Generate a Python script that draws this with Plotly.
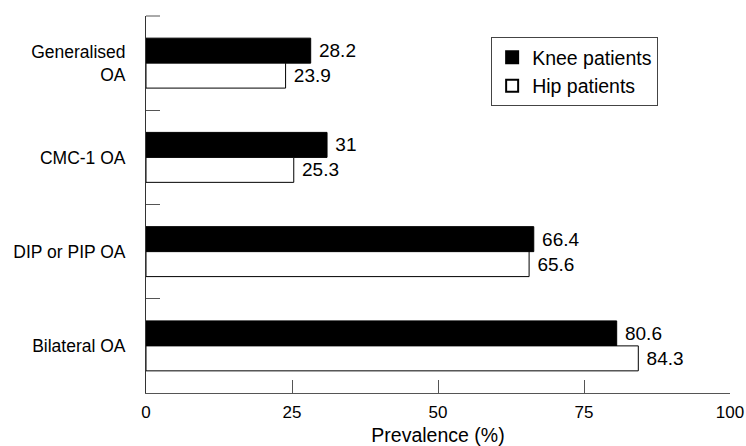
import plotly.graph_objects as go

categories = ["Generalised<br>OA", "CMC-1 OA", "DIP or PIP OA", "Bilateral OA"]
knee_values = [28.2, 31, 66.4, 80.6]
hip_values = [23.9, 25.3, 65.6, 84.3]
x_ticks = [0, 25, 50, 75, 100]

FONT = "Liberation Sans, Arial, sans-serif"

fig = go.Figure()
fig.add_trace(go.Bar(
    name="Knee patients", y=categories, x=knee_values, orientation="h",
    marker=dict(color="black", line=dict(color="black", width=1)),
    texttemplate="\u00a0%{x}", textposition="outside", constraintext="none",
    cliponaxis=False,
    textfont=dict(family=FONT, size=19, color="black"),
))
fig.add_trace(go.Bar(
    name="Hip patients", y=categories, x=hip_values, orientation="h",
    marker=dict(color="white", line=dict(color="black", width=1)),
    texttemplate="\u00a0%{x}", textposition="outside", constraintext="none",
    cliponaxis=False,
    textfont=dict(family=FONT, size=19, color="black"),
))

# small boundary tick at top end of the category axis
fig.add_shape(type="line", xref="x domain", yref="y domain",
              x0=0, x1=14 / 584, y0=1, y1=1,
              line=dict(color="#555", width=1))

fig.update_layout(
    width=746, height=446,
    margin=dict(l=146, r=16, t=16, b=53, autoexpand=False),
    paper_bgcolor="white", plot_bgcolor="white",
    font=dict(family=FONT, color="black"),
    barmode="group", bargap=0.47, bargroupgap=0,
    showlegend=True,
    legend=dict(
        x=0.591, y=0.944, xanchor="left", yanchor="top",
        bgcolor="white", bordercolor="#444", borderwidth=1,
        font=dict(family=FONT, size=19.5, color="black"),
        tracegroupgap=0, itemsizing="constant",
    ),
    xaxis=dict(
        range=[0, 100], tickvals=x_ticks, ticktext=[str(v) for v in x_ticks],
        ticks="inside", ticklen=13, tickcolor="#555", tickwidth=1,
        showline=True, linecolor="#555", linewidth=1,
        showgrid=False, zeroline=False, automargin=False,
        tickfont=dict(family=FONT, size=17, color="black"),
        title=dict(text="Prevalence (%)", font=dict(family=FONT, size=19.5, color="black"), standoff=8),
        ticklabelstandoff=4,
    ),
    yaxis=dict(
        autorange="reversed", type="category",
        tickson="boundaries", ticks="inside", ticklen=14, tickcolor="#555", tickwidth=1,
        showline=True, linecolor="#333", linewidth=1,
        showgrid=False, zeroline=False, automargin=False,
        tickfont=dict(family=FONT, size=17.5, color="black"),
        ticklabelstandoff=16,
    ),
)

fig.write_html(
    "out.html",
    config={"displayModeBar": False},
    post_script="document.body.style.margin='0';document.body.style.overflow='hidden';",
)
